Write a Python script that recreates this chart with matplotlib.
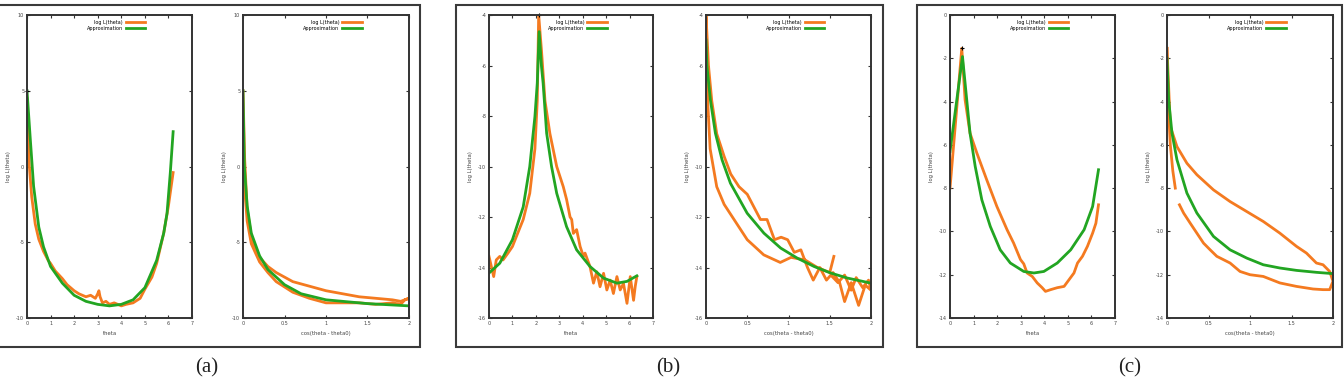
import numpy as np
import matplotlib.pyplot as plt
from matplotlib.patches import Rectangle

ORANGE = "#f47a20"
GREEN = "#22a522"

# ---------------- panel (a) ----------------
a_theta_obs = [0.0, 0.05, 0.1, 0.2, 0.35, 0.5, 0.7, 0.9, 1.0, 1.2, 1.5, 1.7, 2.0, 2.2, 2.5, 2.7,
               2.9, 3.0, 3.05, 3.1, 3.2, 3.35, 3.5, 3.7, 4.0, 4.2, 4.5, 4.8, 5.0, 5.3, 5.5, 5.8,
               6.0, 6.1, 6.2]
a_logl_obs = [4.5, 2.0, 0.0, -2.0, -3.8, -4.8, -5.6, -6.2, -6.4, -6.9, -7.4, -7.8, -8.2, -8.4,
              -8.6, -8.5, -8.7, -8.4, -8.2, -8.6, -9.0, -8.9, -9.1, -9.0, -9.2, -9.1, -9.0, -8.7,
              -8.1, -7.3, -6.4, -4.4, -2.6, -1.5, -0.4]
a_theta_fit = [0.0, 0.14, 0.28, 0.5, 0.7, 1.0, 1.5, 2.0, 2.5, 3.0, 3.5, 4.0, 4.5, 5.0, 5.5,
               5.8, 5.94, 6.08, 6.2]
a_logl_fit = [5.0, 1.8, -1.3, -4.0, -5.3, -6.6, -7.7, -8.5, -8.9, -9.1, -9.2, -9.1, -8.8,
              -8.0, -6.2, -4.4, -3.1, -0.4, 2.3]
a_cos_obs = [0.0, 0.02, 0.05, 0.1, 0.2, 0.3, 0.4, 0.5, 0.6, 0.8, 1.0, 1.2, 1.4, 1.6, 1.8,
             1.9, 2.0,
             1.95, 1.9, 1.8, 1.6, 1.4, 1.2, 1.0, 0.8, 0.6, 0.4, 0.3, 0.2, 0.1, 0.05, 0.02, 0.005]
a_cos_logl_obs = [5.0, 0.5, -2.8, -4.6, -6.0, -6.6, -7.0, -7.3, -7.6, -7.9, -8.2, -8.4, -8.6,
                  -8.7, -8.8, -8.9, -8.7,
                  -8.8, -9.1, -9.0, -9.1, -9.0, -9.0, -9.0, -8.7, -8.3, -7.6, -7.0, -6.3, -5.1,
                  -3.6, -1.5, -0.4]
a_cos_fit = [0.0, 0.016, 0.05, 0.1, 0.2, 0.3, 0.5, 0.7, 1.0, 1.5, 2.0]
a_cos_logl_fit = [5.0, 0.0, -2.6, -4.4, -5.9, -6.8, -7.8, -8.4, -8.8, -9.05, -9.2]

# ---------------- panel (b) ----------------
b_theta_obs = [0.0, 0.1, 0.2, 0.31, 0.46, 0.6, 0.81, 1.0, 1.2, 1.46, 1.74, 1.96, 2.06, 2.12,
               2.24, 2.39, 2.6, 2.89, 3.17, 3.31, 3.46, 3.53, 3.6, 3.74, 3.89, 4.03, 4.1, 4.31,
               4.46, 4.6, 4.74, 4.89, 5.03, 5.17, 5.31, 5.46, 5.6, 5.74, 5.89, 6.03, 6.17, 6.24,
               6.31]
b_logl_obs = [-13.56, -13.96, -14.36, -13.7, -13.56, -13.7, -13.43, -13.17, -12.7, -12.1,
              -11.06, -9.3, -7.4, -4.0, -5.4, -7.4, -8.7, -10.0, -10.8, -11.3, -12.0, -12.1,
              -12.65, -12.5, -13.17, -13.56, -13.43, -13.96, -14.62, -14.17, -14.76, -14.23,
              -14.89, -14.5, -15.03, -14.36, -14.89, -14.63, -15.42, -14.36, -15.3, -14.76,
              -14.36]
b_theta_fit = [0.0, 0.46, 1.0, 1.46, 1.74, 1.96, 2.06, 2.14, 2.24, 2.31, 2.46, 2.67, 2.89,
               3.31, 3.74, 4.31, 4.89, 5.46, 5.89, 6.31]
b_logl_fit = [-14.22, -13.83, -12.9, -11.6, -10.0, -8.02, -6.7, -4.66, -6.04, -6.7, -8.68,
              -10.0, -11.06, -12.38, -13.3, -13.96, -14.42, -14.62, -14.55, -14.33]
b_cos_obs = [1.55, 1.5, 1.35, 1.2, 1.03, 0.9, 0.7, 0.5, 0.34, 0.22, 0.13, 0.05, 0.02, 0.0,
             0.03, 0.07, 0.13, 0.22, 0.3, 0.4, 0.5, 0.58, 0.66, 0.74, 0.83, 0.91, 0.99, 1.07,
             1.15, 1.23, 1.3, 1.38, 1.46, 1.54, 1.62, 1.68, 1.76, 1.85, 1.93, 2.0,
             1.97, 1.9, 1.82, 1.76, 1.68, 1.6, 1.53]
b_cos_logl_obs = [-13.56, -14.2, -14.0, -13.7, -13.6, -13.8, -13.5, -12.9, -12.1, -11.5,
                  -10.8, -9.3, -7.4, -4.0,
                  -6.0, -7.4, -8.7, -9.6, -10.3, -10.8, -11.1, -11.6, -12.1, -12.1, -12.9,
                  -12.8, -12.9, -13.4, -13.3, -14.0, -14.5, -14.0, -14.5, -14.2, -14.6, -15.35,
                  -14.6, -15.5, -14.7, -14.9,
                  -14.5, -14.8, -14.4, -14.9, -14.3, -14.6, -14.36]
b_cos_fit = [0.0, 0.012, 0.053, 0.114, 0.195, 0.296, 0.499, 0.702, 0.905, 1.107, 1.31,
             1.513, 1.716, 2.0]
b_cos_logl_fit = [-4.99, -6.04, -7.36, -8.68, -9.74, -10.66, -11.85, -12.64, -13.23, -13.63,
                  -13.96, -14.22, -14.42, -14.62]

# ---------------- panel (c) ----------------
c_theta_obs = [0.0, 0.5, 0.64, 0.85, 1.14, 1.56, 1.99, 2.42, 2.7, 2.99, 3.13, 3.27, 3.49, 3.7,
               3.91, 4.05, 4.27, 4.55, 4.84, 5.05, 5.26, 5.41, 5.62, 5.83, 6.05, 6.19, 6.3]
c_logl_obs = [-8.0, -1.54, -3.92, -5.46, -6.38, -7.62, -8.85, -9.92, -10.54, -11.3, -11.5,
              -11.92, -12.08, -12.38, -12.6, -12.77, -12.69, -12.6, -12.54, -12.23, -11.92,
              -11.46, -11.15, -10.69, -10.08, -9.62, -8.77]
c_theta_fit = [0.0, 0.53, 0.71, 0.85, 1.07, 1.35, 1.71, 2.13, 2.56, 3.13, 3.56, 3.98, 4.55,
               5.12, 5.69, 6.05, 6.3]
c_logl_fit = [-6.31, -1.92, -3.92, -5.46, -7.0, -8.54, -9.77, -10.85, -11.46, -11.85, -11.92,
              -11.85, -11.46, -10.85, -9.92, -8.85, -7.15]
c_cos_obs_near = [0.1, 0.07, 0.04, 0.02, 0.005, 0.0]
c_cos_logl_obs_near = [-8.0, -7.2, -6.0, -4.5, -3.0, -1.54]
c_cos_obs = [0.0, 0.04, 0.12, 0.24, 0.36, 0.56, 0.76, 0.96, 1.16, 1.36, 1.56, 1.68, 1.8, 1.88,
             1.96, 2.0, 1.96, 1.88, 1.76, 1.56, 1.36, 1.16, 1.0, 0.88, 0.76, 0.6, 0.52, 0.44,
             0.36, 0.28, 0.2, 0.15]
c_cos_logl_obs = [-1.54, -5.15, -6.08, -6.85, -7.38, -8.08, -8.62, -9.08, -9.54, -10.08,
                  -10.69, -11.0, -11.46, -11.54, -11.85, -12.3, -12.69, -12.69, -12.66, -12.54,
                  -12.38, -12.08, -12.0, -11.85, -11.46, -11.15, -10.85, -10.54, -10.08, -9.62,
                  -9.15, -8.77]
c_cos_fit = [0.0, 0.02, 0.06, 0.12, 0.24, 0.36, 0.56, 0.76, 0.96, 1.16, 1.36, 1.56, 1.8, 2.0]
c_cos_logl_fit = [-2.0, -3.92, -5.46, -6.69, -8.23, -9.15, -10.23, -10.85, -11.23, -11.54,
                  -11.69, -11.8, -11.89, -11.95]

peaks = {"a": (0.0, 5.0), "b": (2.12, -4.0), "c": (0.5, -1.54)}

panels = [
    ("a", (a_theta_obs, a_logl_obs), (a_theta_fit, a_logl_fit),
     [(a_cos_obs, a_cos_logl_obs)], (a_cos_fit, a_cos_logl_fit), (-10, 10), [-10, -5, 0, 5, 10]),
    ("b", (b_theta_obs, b_logl_obs), (b_theta_fit, b_logl_fit),
     [(b_cos_obs, b_cos_logl_obs)], (b_cos_fit, b_cos_logl_fit), (-16, -4), list(range(-16, -3, 2))),
    ("c", (c_theta_obs, c_logl_obs), (c_theta_fit, c_logl_fit),
     [(c_cos_obs_near, c_cos_logl_obs_near), (c_cos_obs, c_cos_logl_obs)],
     (c_cos_fit, c_cos_logl_fit), (-14, 0), list(range(-14, 1, 2))),
]

W, H = 1344, 383
LW = 2.0
fig = plt.figure(figsize=(W / 100, H / 100), dpi=100)

# axes pixel positions (left, right) for each subplot
ax_px = [(27, 192), (243, 409), (489, 653), (706, 871), (950, 1115), (1167, 1333)]
box_px = [(-5, 420), (456, 883), (917, 1342)]
label_x = [207, 668, 1130]
top_px, bot_px = 15, 318

def style(ax, xlim, xticks, ylim, yticks, xlabel):
    ax.set_xlim(*xlim)
    ax.set_ylim(*ylim)
    ax.set_xticks(xticks)
    ax.set_yticks(yticks)
    ax.set_xticklabels([("%g" % t) for t in xticks])
    ax.set_yticklabels([("%g" % t) for t in yticks])
    ax.tick_params(direction="in", length=2.5, width=0.8, labelsize=3.5, pad=2,
                   top=True, right=True, colors="#333333", labelcolor="#444444")
    for s in ax.spines.values():
        s.set_linewidth(1.4)
        s.set_color("#333333")
    ax.set_xlabel(xlabel, fontsize=3.8, color="#444444", labelpad=4)
    ax.set_ylabel("log L(theta)", fontsize=3.8, color="#444444", labelpad=4)
    ax.legend(loc="upper center", bbox_to_anchor=(0.54, 1.0), fontsize=3.5, frameon=False,
              markerfirst=False, handlelength=4, handletextpad=0.6, labelspacing=0.2,
              borderpad=0.5)

for i, (key, obs, fit, cos_obs, cos_fit, ylim, yticks) in enumerate(panels):
    l, r = ax_px[2 * i]
    ax1 = fig.add_axes([l / W, (H - bot_px) / H, (r - l) / W, (bot_px - top_px) / H])
    ax1.plot(*obs, color=ORANGE, lw=LW, label="log L(theta)")
    ax1.plot(*fit, color=GREEN, lw=LW, label="Approximation")
    ax1.plot(*peaks[key], marker="+", color="black", ms=3, mew=0.8, clip_on=False)
    style(ax1, (0, 7), list(range(8)), ylim, yticks, "theta")

    l, r = ax_px[2 * i + 1]
    ax2 = fig.add_axes([l / W, (H - bot_px) / H, (r - l) / W, (bot_px - top_px) / H])
    for j, seg in enumerate(cos_obs):
        ax2.plot(*seg, color=ORANGE, lw=LW, label="log L(theta)" if j == 0 else None)
    ax2.plot(*cos_fit, color=GREEN, lw=LW, label="Approximation")
    style(ax2, (0, 2), [0, 0.5, 1, 1.5, 2], ylim, yticks, "cos(theta - theta0)")

    bl, br = box_px[i]
    fig.patches.append(Rectangle((bl / W, (H - 347) / H), (br - bl) / W, (347 - 5) / H,
                                 transform=fig.transFigure, fill=False, ec="#3a3a3a", lw=1.5))
    fig.text(label_x[i] / W, (H - 368) / H, "(%s)" % key, ha="center", va="center",
             fontsize=15, family="Liberation Serif", color="#222222")

fig.savefig("out.png", dpi=100)
